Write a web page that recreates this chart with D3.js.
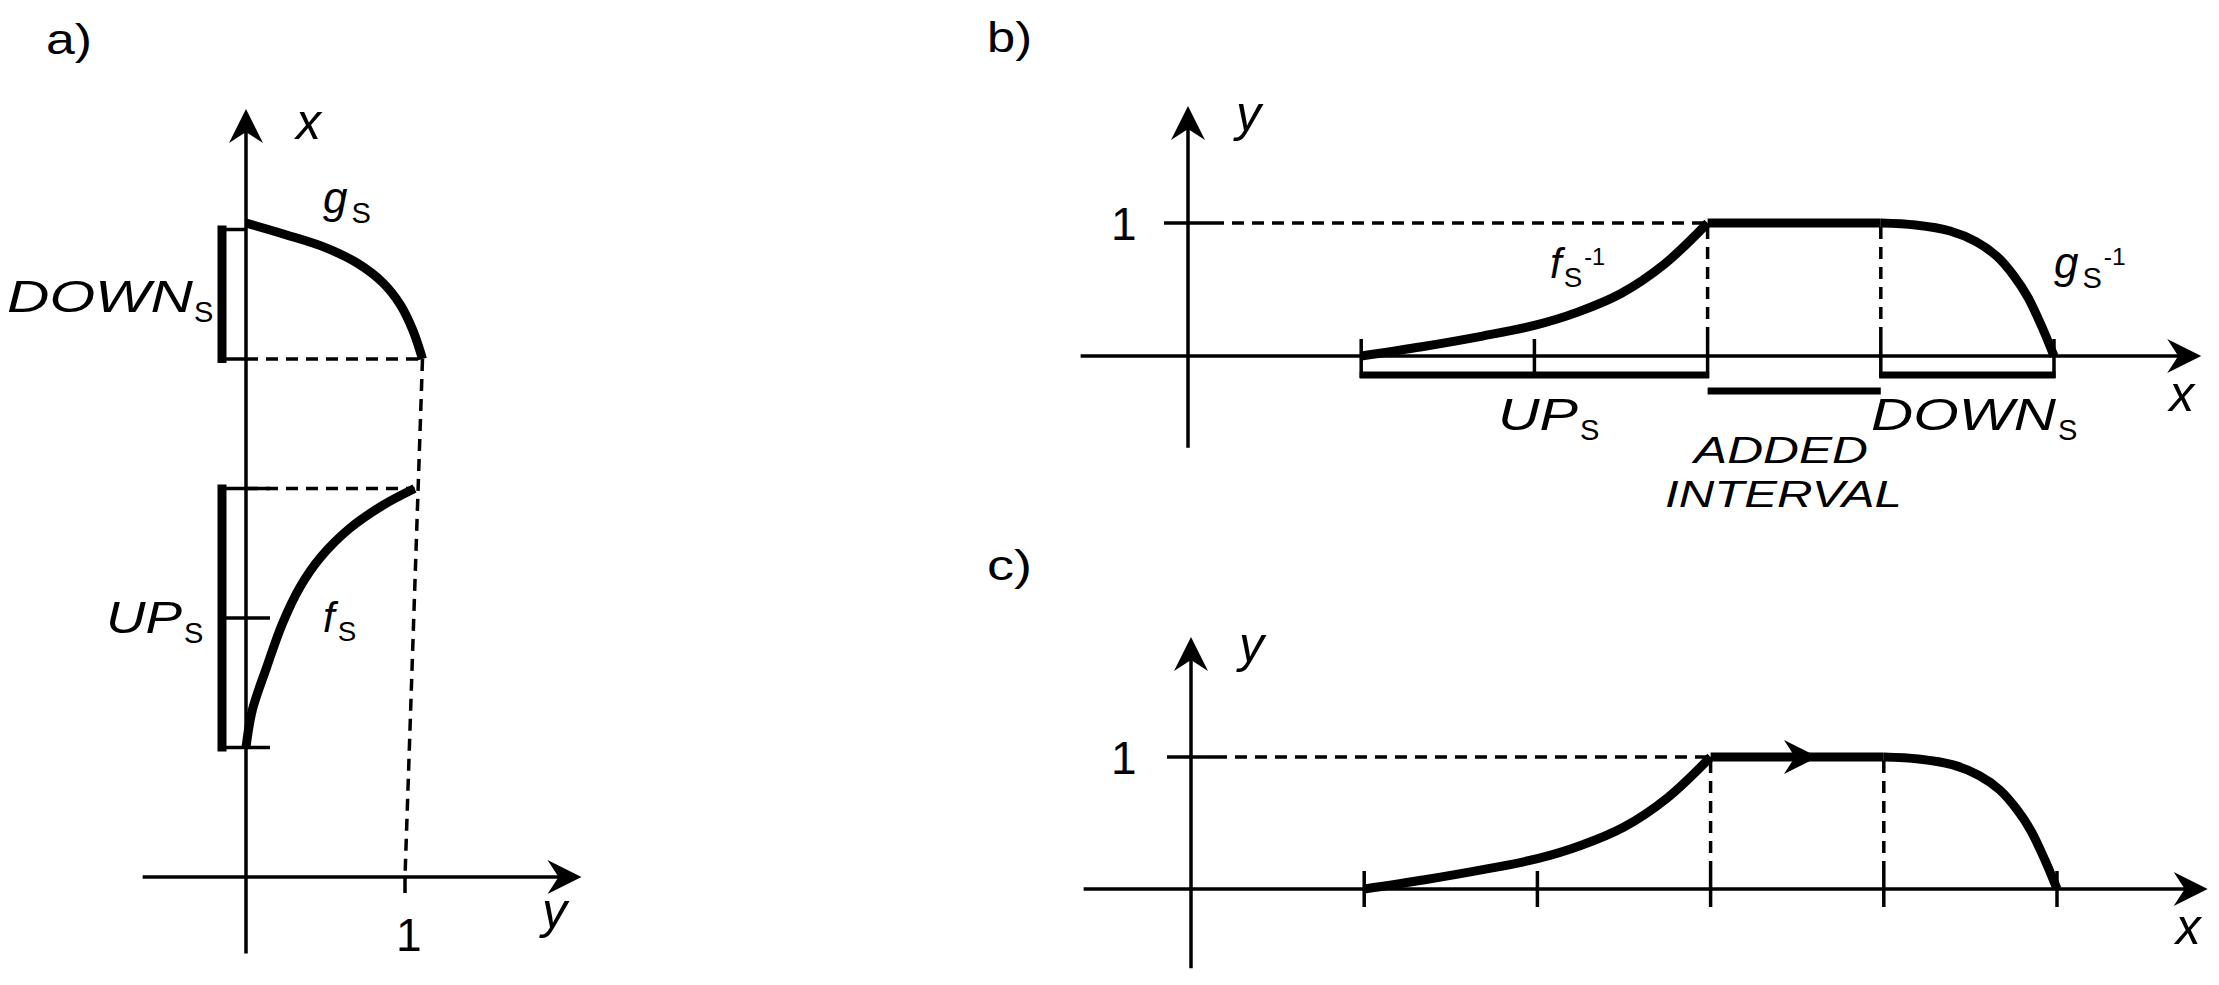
<!DOCTYPE html>
<html>
<head>
<meta charset="utf-8">
<script src="https://cdn.jsdelivr.net/npm/d3@7"></script>
<style>
  body { margin: 0; background: #fff; }
  text { font-family: "Liberation Sans", Arial, sans-serif; fill: #000; }
</style>
</head>
<body>
<div id="chart"></div>
<script>
// interval ends on the x line (shared by all three panels)
const xTicks = [1, 2, 3, 4, 5];
const upInterval = [1, 3];
const addedInterval = [3, 4];
const downInterval = [4, 5];
const levelOne = 1;

// panel a) : [y, x]  (y runs horizontally, x vertically)
const fS = [[0, 1.0], [0.04, 1.29], [0.13, 1.62], [0.23, 1.96], [0.34, 2.24], [0.47, 2.47], [0.65, 2.69], [0.86, 2.87], [1.06, 3.0]];
const gS = [[0, 5.05], [0.25, 4.96], [0.5, 4.86], [0.7, 4.74], [0.86, 4.59], [0.97, 4.42], [1.05, 4.22], [1.11, 4.0]];

// panels b) and c) : [x, y]
const fInv = [[1, 0], [1.35, 0.07], [1.7, 0.15], [2, 0.23], [2.25, 0.33], [2.5, 0.47], [2.75, 0.69], [3, 1]];
const flatPart = [[3, 1], [4, 1]];
const gInv = [[4, 1], [4.2, 0.985], [4.4, 0.94], [4.55, 0.86], [4.67, 0.75], [4.77, 0.6], [4.85, 0.44], [4.93, 0.22], [5, 0]];
const flowArrowAt = 3.62;

const width = 2219, height = 985;
const svg = d3.select("#chart").append("svg")
  .attr("width", width).attr("height", height);

const AX = 3.5, CURVE = 9, DASH = "12,8";

function stealth(g, x, y, dir) {
  const L = 34, h = 17, n = 11;
  const pts = dir === "up"
    ? [[x, y], [x + h, y + L], [x, y + L - n], [x - h, y + L]]
    : [[x, y], [x - L, y - h], [x - L + n, y], [x - L, y + h]];
  g.append("path").attr("d", d3.line()(pts) + "Z").attr("fill", "#000");
}

function seg(g, x1, y1, x2, y2, w, dash) {
  const l = g.append("line")
    .attr("x1", x1).attr("y1", y1).attr("x2", x2).attr("y2", y2)
    .attr("stroke", "#000").attr("stroke-width", w);
  if (dash) l.attr("stroke-dasharray", dash);
  return l;
}

function label(g, x, y, txt, size, italic, len) {
  const t = g.append("text").attr("x", x).attr("y", y)
    .attr("font-size", size)
    .attr("font-style", italic ? "italic" : "normal")
    .text(txt);
  if (len) t.attr("textLength", len).attr("lengthAdjust", "spacingAndGlyphs");
  return t;
}

// italic symbol with upright subscript S and optional superscript
function sym(g, x, y, main, size, opts = {}) {
  const t = label(g, x, y, main, size, true, opts.len);
  let sx = x + (opts.len || t.node().getComputedTextLength()) + (opts.gap ?? 2);
  if (opts.sub) {
    const s = label(g, sx, y + size * 0.22, opts.sub, size * 0.66, false);
    sx += s.node().getComputedTextLength() + 2;
  }
  if (opts.sup) label(g, sx, y - size * 0.3, opts.sup, size * 0.56, false);
}

function curve(g, data, sx, sy) {
  const line = d3.line()
    .x(d => sx(d[0]))
    .y(d => sy(d[1]))
    .curve(d3.curveCatmullRom.alpha(0.5));
  g.append("path").datum(data).attr("d", line)
    .attr("fill", "none").attr("stroke", "#000")
    .attr("stroke-width", CURVE).attr("stroke-linejoin", "round");
}

// ---------------- panel a) ----------------
{
  const g = svg.append("g");
  const ya = d3.scaleLinear().domain([0, 1]).range([246, 405]);     // horizontal
  const xa = d3.scaleLinear().domain([0, 5]).range([877, 229.5]);   // vertical

  label(g, 46, 54, "a)", 42, false, 46);

  // axes
  seg(g, ya(-0.65), xa(0), ya(2.11) - 22, xa(0), AX);
  stealth(g, ya(2.11), xa(0), "right");
  seg(g, ya(0), xa(-0.59), ya(0), xa(5.93) + 22, AX);
  stealth(g, ya(0), xa(5.93), "up");
  seg(g, ya(1), xa(0), ya(1), xa(0) + 16, AX);

  // dashed guides
  const gEnd = gS[gS.length - 1], fEnd = fS[fS.length - 1];
  seg(g, ya(0), xa(gEnd[1]), ya(gEnd[0]), xa(gEnd[1]), AX, DASH);
  seg(g, ya(0), xa(fEnd[1]), ya(fEnd[0]), xa(fEnd[1]), AX, DASH);
  seg(g, ya(gEnd[0]), xa(gEnd[1]), ya(1), xa(0), AX, DASH);

  // brackets
  const bx = ya(0) - 24;
  seg(g, bx, xa(upInterval[0]) + 4, bx, xa(upInterval[1]) - 4, 9);
  seg(g, bx, xa(downInterval[0]) + 4, bx, xa(downInterval[1]) - 4, 9);
  [1, 2, 3].forEach(v => seg(g, bx, xa(v), ya(0) + 24, xa(v), AX));
  downInterval.forEach(v => seg(g, bx, xa(v), ya(0), xa(v), AX));

  curve(g, fS, ya, xa);
  curve(g, gS, ya, xa);

  label(g, 296, 139, "x", 50, true);
  label(g, 542, 928, "y", 50, true);
  label(g, 396, 951, "1", 46, false);
  sym(g, 323, 213, "g", 44, { sub: "S", gap: 4 });
  sym(g, 7, 312, "DOWN", 44, { sub: "S", len: 186, gap: 1 });
  sym(g, 106, 633, "UP", 44, { sub: "S", len: 76, gap: 2 });
  sym(g, 323, 632, "f", 42, { sub: "S", gap: 3 });
}

// ---------------- panels b) and c) ----------------
function panel(cfg) {
  const g = svg.append("g");
  const sx = d3.scaleLinear().domain([0, 5]).range(cfg.xr);
  const sy = d3.scaleLinear().domain([0, 1]).range(cfg.yr);

  label(g, 987, cfg.tagY, cfg.tag, 42, false, 45);

  // axes
  seg(g, sx(-0.62), sy(0), sx(cfg.xEnd) - 22, sy(0), AX);
  stealth(g, sx(cfg.xEnd), sy(0), "right");
  seg(g, sx(0), sy(cfg.yLow), sx(0), sy(cfg.yEnd) + 22, AX);
  stealth(g, sx(0), sy(cfg.yEnd), "up");

  // level 1 tick and dashed guide
  seg(g, sx(0) - 24, sy(levelOne), sx(0) + 24, sy(levelOne), AX);
  seg(g, sx(0) + 24, sy(levelOne), sx(addedInterval[0]), sy(levelOne), AX, DASH);
  addedInterval.forEach(v => seg(g, sx(v), sy(levelOne) + 4, sx(v), sy(0) - cfg.tickUp, AX, DASH));

  // ticks on x
  xTicks.forEach(v => seg(g, sx(v), sy(0) - cfg.tickUp, sx(v), sy(0) + cfg.tickDown, AX));

  if (cfg.brackets) {
    [upInterval, downInterval].forEach(iv =>
      seg(g, sx(iv[0]) - 1.5, sy(0) + 19, sx(iv[1]) + 1.5, sy(0) + 19, 7));
    seg(g, sx(addedInterval[0]), sy(0) + 35, sx(addedInterval[1]), sy(0) + 35, 7);
  }

  curve(g, fInv, sx, sy);
  curve(g, flatPart, sx, sy);
  curve(g, gInv, sx, sy);

  if (cfg.flowArrow) stealth(g, sx(flowArrowAt), sy(levelOne), "right");

  label(g, 1111, sy(levelOne) + 17, "1", 46, false);
  label(g, sx(0) + 48, cfg.yLabelY, "y", 50, true);
  label(g, sx(cfg.xEnd) - 32, sy(0) + 55, "x", 50, true);
  return { g, sx, sy };
}

const pb = panel({
  tag: "b)", tagY: 52, xr: [1188, 2054], yr: [356, 223],
  xEnd: 5.85, yLow: -0.69, yEnd: 1.88, tickUp: 17, tickDown: 22,
  brackets: true, flowArrow: false, yLabelY: 131
});
{
  const g = pb.g;
  sym(g, 1550, 278, "f", 42, { sub: "S", sup: "-1", gap: 2 });
  sym(g, 2054, 278, "g", 44, { sub: "S", sup: "-1", gap: 4 });
  sym(g, 1498, 430, "UP", 44, { sub: "S", len: 80, gap: 2 });
  sym(g, 1871, 430, "DOWN", 44, { sub: "S", len: 185, gap: 2 });
  label(g, 1694, 463, "ADDED", 36, true, 174);
  label(g, 1665, 507, "INTERVAL", 36, true, 237);
}

panel({
  tag: "c)", tagY: 580, xr: [1191, 2057], yr: [889, 757],
  xEnd: 5.87, yLow: -0.6, yEnd: 1.91, tickUp: 18, tickDown: 18,
  brackets: false, flowArrow: true, yLabelY: 662
});
</script>
</body>
</html>
